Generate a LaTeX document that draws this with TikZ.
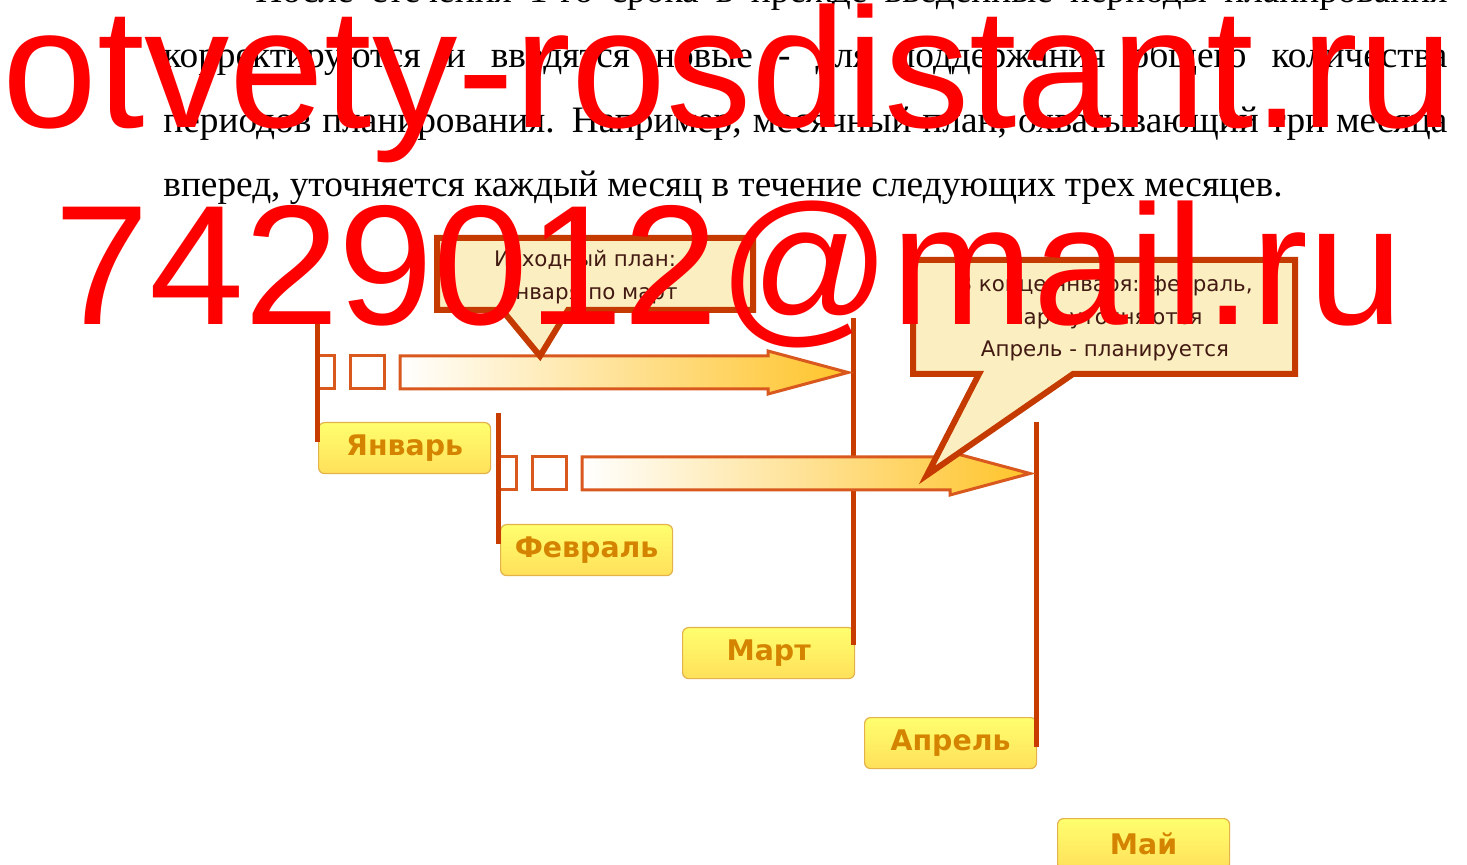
\documentclass[tikz,border=0pt]{standalone}
\usepackage{fontspec}
\setmainfont{Liberation Serif}
\newfontfamily\wmfont{Liberation Sans}
\newfontfamily\calfont{DejaVu Sans}
\definecolor{lineRed}{HTML}{C83C00}
\definecolor{calBorder}{HTML}{C43A00}
\definecolor{calFill}{HTML}{FBEFC2}
\definecolor{calText}{HTML}{431A12}
\definecolor{arrBorder}{HTML}{D9581E}
\definecolor{arrGold}{HTML}{FFC42A}
\definecolor{arrMid}{HTML}{FEE8BC}
\definecolor{monTop}{HTML}{FFFF6E}
\definecolor{monBot}{HTML}{FFE05A}
\definecolor{monBorder}{HTML}{E3B24A}
\definecolor{monText}{HTML}{D48400}
\definecolor{wmRed}{HTML}{FF0000}
\begin{document}
\begin{tikzpicture}[x=0.5pt,y=-0.5pt,
  para/.style={inner sep=0pt, anchor=base west, font=\fontsize{18.65}{20}\selectfont},
  month/.style={rounded corners=3pt, draw=monBorder, line width=0.6pt,
    top color=monTop, bottom color=monBot, text=monText,
    font=\calfont\bfseries\fontsize{14.2}{16}\selectfont,
    inner sep=0pt, minimum width=86pt, minimum height=25.5pt, anchor=north west},
  smallbox/.style={draw=arrBorder, line width=1.5pt, fill=white},
  bigarrow/.style={draw=arrBorder, line width=1.5pt, line join=miter,
    left color=white, middle color=arrMid, right color=arrGold},
  vline/.style={draw=lineRed, line width=2.5pt},
  callout/.style={draw=calBorder, line width=3pt, fill=calFill, line join=miter},
  caltext/.style={inner sep=0pt, anchor=base, text=calText,
    font=\calfont\fontsize{10.7}{12}\selectfont},
  wm/.style={inner sep=0pt, anchor=base west, text=wmRed,
    font=\wmfont\fontsize{85.3}{90}\selectfont}]
\useasboundingbox (0,0) rectangle (1467,865);
\clip (0,0) rectangle (1467,865);
\fill[white] (0,0) rectangle (1467,865);

% paragraph
\node[para] (p1) at (255,3) {\makebox[596pt][s]{После стечения 1-го срока в прежде введенные периоды планирования}};
\node[para] (p2) at (163,68) {\makebox[642pt][s]{корректируются и вводятся новые - для поддержания общего количества}};
\node[para] (p3) at (163,133) {\makebox[642pt][s]{периодов планирования. Например, месячный план, охватывающий три месяца}};
\node[para] (p4) at (163,197) {вперед, уточняется каждый месяц в течение следующих трех месяцев.};

% month boxes
\node[month] (jan) at (318,422) {Январь};
\node[month] (feb) at (500,524) {Февраль};
\node[month] (mar) at (682,627) {Март};
\node[month] (apr) at (864,717) {Апрель};
\node[month] (may) at (1057,818) {Май};

% small boxes of the two rows
\foreach \dx/\dy in {0/0,182/101}{
  \begin{scope}[shift={(\dx,\dy)}]
    \path[smallbox] (317,356) rectangle (334,389);
    \path[smallbox] (350,356) rectangle (384,389);
  \end{scope}
}

% vertical lines
\coordinate (aT) at (317,318); \coordinate (aB) at (317,442);
\coordinate (bT) at (498,413); \coordinate (bB) at (498,544);
\coordinate (cT) at (853,318); \coordinate (cB) at (853,645);
\coordinate (dT) at (1036,422); \coordinate (dB) at (1036,747);
\draw[vline] (aT) -- (aB);
\draw[vline] (bT) -- (bB);
\draw[vline] (cT) -- (cB);
\draw[vline] (dT) -- (dB);

% big arrows
\foreach \dx/\dy in {0/0,182/101}{
  \begin{scope}[shift={(\dx,\dy)}]
    \path[bigarrow] (400,356) -- (768,356) -- (768,351) -- (848,372.5)
      -- (768,394) -- (768,389) -- (400,389) -- cycle;
  \end{scope}
}

% callouts
\draw[callout] (437,238) -- (753,238) -- (753,310) -- (568,310) -- (540,356)
  -- (502,310) -- (437,310) -- cycle;
\node[caltext] (c1a) at (585,267) {Исходный план:};
\node[caltext] (c1b) at (590,300) {января по март};

\draw[callout] (913,260) -- (1295,260) -- (1295,374) -- (1073,374) -- (927,475)
  -- (979,374) -- (913,374) -- cycle;
\node[caltext] (c2a) at (1105,292) {В конце января: февраль,};
\node[caltext] (c2b) at (1105,325) {март уточняются};
\node[caltext] (c2c) at (1105,357) {Апрель - планируется};

% watermark
\node[wm] (w1) at (2,128) {otvety-rosdistant.ru};
\node[wm] (w2) at (54,325) {7429012@mail.ru};
\end{tikzpicture}
\end{document}
